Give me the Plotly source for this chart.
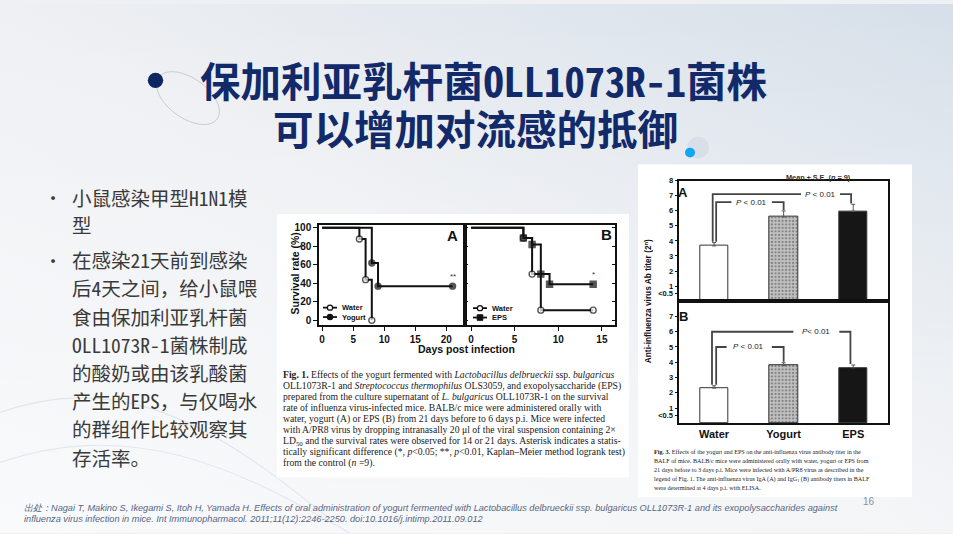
import base64
import math
import plotly.graph_objects as go

W, H = 953, 534


def px(x):
    return x / W


def py(y):
    return 1 - y / H


# ---------------- data ----------------
days_A_water = [0, 6, 7, 8]
surv_A_water = [100, 88, 44, 0]
days_A_yogurt = [0, 8, 9, 21]
surv_A_yogurt = [100, 62, 37, 37]
days_B_water = [0, 6, 7, 8, 14]
surv_B_water = [100, 89, 50, 11, 11]
days_B_eps = [0, 6, 7, 8, 9, 14]
surv_B_eps = [100, 89, 82, 50, 39, 39]

groups = ["Water", "Yogurt", "EPS"]
iga_mean = [3.67, 5.59, 5.97]
iga_se = [0.22, 0.40, 0.46]
igg_mean = [2.31, 3.78, 3.64]
igg_se = [0.15, 0.19, 0.18]

surv_ticks_y = [0, 20, 40, 60, 80, 100]
surv_ticks_xA = [0, 5, 10, 15, 20]
surv_ticks_xB = [0, 5, 10, 15]
titer_ticks_A = [0.5, 1, 2, 3, 4, 5, 6, 7, 8]
titer_ticks_B = [0.5, 1, 2, 3, 4, 5, 6, 7]

title_lines = ["保加利亚乳杆菌OLL1073R-1菌株", "可以增加对流感的抵御"]
bullets = [
    ["小鼠感染甲型H1N1模", "型"],
    ["在感染21天前到感染", "后4天之间，给小鼠喂", "食由保加利亚乳杆菌", "OLL1073R-1菌株制成",
     "的酸奶或由该乳酸菌", "产生的EPS，与仅喝水", "的群组作比较观察其", "存活率。"],
]
fig1_caption = [
    "<b>Fig. 1.</b> Effects of the yogurt fermented with <i>Lactobacillus delbrueckii</i> ssp. <i>bulgaricus</i>",
    "OLL1073R-1 and <i>Streptococcus thermophilus</i> OLS3059, and exopolysaccharide (EPS)",
    "prepared from the culture supernatant of <i>L. bulgaricus</i> OLL1073R-1 on the survival",
    "rate of influenza virus-infected mice. BALB/c mice were administered orally with",
    "water, yogurt (A) or EPS (B) from 21 days before to 6 days p.i. Mice were infected",
    "with A/PR8 virus by dropping intranasally 20 μl of the viral suspension containing 2×",
    "LD<sub>50</sub> and the survival rates were observed for 14 or 21 days. Asterisk indicates a statis-",
    "tically significant difference (*, <i>p</i>&lt;0.05; **, <i>p</i>&lt;0.01, Kaplan–Meier method logrank test)",
    "from the control (<i>n</i> =9).",
]
fig3_caption = [
    "<b>Fig. 3.</b> Effects of the yogurt and EPS on the anti-influenza virus antibody titer in the",
    "BALF of mice. BALB/c mice were administered orally with water, yogurt or EPS from",
    "21 days before to 3 days p.i. Mice were infected with A/PR8 virus as described in the",
    "legend of Fig. 1. The anti-influenza virus IgA (A) and IgG<sub>1</sub> (B) antibody titers in BALF",
    "were determined at 4 days p.i. with ELISA.",
]
footer_lines = [
    "出处：Nagai T, Makino S, Ikegami S, Itoh H, Yamada H. Effects of oral administration of yogurt fermented with Lactobacillus delbrueckii ssp. bulgaricus OLL1073R-1 and its exopolysaccharides against",
    "influenza virus infection in mice. Int Immunopharmacol. 2011;11(12):2246-2250. doi:10.1016/j.intimp.2011.09.012",
]

# ---------------- styles ----------------
SANS = "Liberation Sans, Arial, sans-serif"
SERIF = "Liberation Serif, Times New Roman, serif"
CJK = "Noto Sans Mono CJK SC, Noto Sans CJK SC, sans-serif"
NAVY = "#12296a"
INK = "#111111"

fig = go.Figure()


def surv_trace(xs, ys, name, symbol, fill, xa, ya):
    sizes = [0] + [6] * (len(xs) - 1)
    return go.Scatter(
        x=xs, y=ys, mode="lines+markers", name=name, showlegend=False,
        line=dict(shape="hv", color=INK, width=2),
        marker=dict(symbol=symbol, size=sizes, color=fill, line=dict(color=INK, width=1.4)),
        xaxis=xa, yaxis=ya, cliponaxis=False,
    )


fig.add_trace(surv_trace(days_A_water, surv_A_water, "Water", "circle", "white", "x", "y"))
fig.add_trace(surv_trace(days_A_yogurt, surv_A_yogurt, "Yogurt", "circle", INK, "x", "y"))
fig.add_trace(surv_trace(days_B_water, surv_B_water, "Water", "circle", "white", "x2", "y2"))
fig.add_trace(surv_trace(days_B_eps, surv_B_eps, "EPS", "square", INK, "x2", "y2"))

xidx = list(range(len(groups)))
bar_colors = ["white", "#c2c2c2", "#161616"]
bar_patterns = ["", ".", ""]
for means, ses, xa, ya in [(iga_mean, iga_se, "x3", "y3"), (igg_mean, igg_se, "x4", "y4")]:
    fig.add_trace(go.Bar(
        x=xidx, y=means, width=0.41, showlegend=False,
        marker=dict(color=bar_colors, line=dict(color="#333", width=1),
                    pattern=dict(shape=bar_patterns, fgcolor="#2a2a2a", size=3.5, solidity=0.35,
                                 fillmode="overlay")),
        error_y=dict(type="data", array=ses, arrayminus=[0] * len(ses), symmetric=False,
                     color="#555", thickness=1, width=2),
        xaxis=xa, yaxis=ya,
    ))

shapes = []
annotations = []


# significance brackets (computed from the bar tops)
def bracket(xa, ya, i0, i1, means, ses, y_h, dx0, dx1, gap0, gap1, label_x, label):
    yl = means[i0] + ses[i0] + 0.06
    yr = means[i1] + ses[i1] + 0.06
    xl = i0 + dx0
    xr = i1 + dx1
    st = dict(type="path", xref=xa, yref=ya, line=dict(color="#444", width=1.8), layer="above")
    shapes.append(dict(st, path=f"M {xl},{yl} L {xl},{y_h} L {gap0},{y_h}"))
    shapes.append(dict(st, path=f"M {gap1},{y_h} L {xr},{y_h} L {xr},{yr}"))
    annotations.append(dict(x=label_x, y=y_h, xref=xa, yref=ya, text=label, showarrow=False,
                            font=dict(family=SANS, size=8, color="#222")))


bracket("x3", "y3", 0, 2, iga_mean, iga_se, 7.1, -0.02, -0.03, 1.25, 1.81, 1.53, "<i>P</i> &lt; 0.01")
bracket("x3", "y3", 0, 1, iga_mean, iga_se, 6.58, 0.03, 0.0, 0.25, 0.83, 0.54, "<i>P</i> &lt; 0.01")
bracket("x4", "y4", 0, 2, igg_mean, igg_se, 6.0, -0.03, -0.04, 1.14, 1.80, 1.47, "<i>P</i>&lt; 0.01")
bracket("x4", "y4", 0, 1, igg_mean, igg_se, 5.0, 0.03, 0.0, 0.18, 0.83, 0.50, "<i>P</i> &lt; 0.01")

# ---------------- background decorations ----------------
svg = f'''<svg xmlns="http://www.w3.org/2000/svg" width="{W}" height="{H}" viewBox="0 0 {W} {H}" preserveAspectRatio="none">
<defs>
<linearGradient id="g" x1="0" y1="1" x2="1" y2="0">
<stop offset="0" stop-color="#f6f7f9"/>
<stop offset="0.5" stop-color="#eef0f3"/>
<stop offset="1" stop-color="#d6dfe9"/>
</linearGradient>
<linearGradient id="h" x1="0" y1="0" x2="0" y2="1">
<stop offset="0" stop-color="#ffffff" stop-opacity="0"/>
<stop offset="1" stop-color="#ffffff" stop-opacity="0.35"/>
</linearGradient>
</defs>
<rect width="{W}" height="{H}" fill="url(#g)"/>
<rect width="{W}" height="{H}" fill="url(#h)"/>
<path d="M -20 420 C 120 360 220 430 330 520" fill="none" stroke="#e1e6ed" stroke-width="1.2"/>
<path d="M -20 470 C 130 410 240 470 360 540" fill="none" stroke="#e3e8ee" stroke-width="1.2"/>
</svg>'''
bg_uri = "data:image/svg+xml;base64," + base64.b64encode(svg.encode("utf-8")).decode("ascii")

# white panels holding the two figures
for (x0, y0, x1, y1) in [(277, 212, 629, 478), (638, 162, 912, 498)]:
    shapes.append(dict(type="rect", xref="paper", yref="paper", x0=px(x0), x1=px(x1), y0=py(y1), y1=py(y0),
                       fillcolor="white", line=dict(width=0), layer="below"))

# ellipse + navy dot near the title
cx, cy, ea, eb, th = 188, 95, 36, 20, math.radians(36)
pts = []
for k in range(73):
    t = 2 * math.pi * k / 72
    X = cx + ea * math.cos(t) * math.cos(th) - eb * math.sin(t) * math.sin(th)
    Y = cy + ea * math.cos(t) * math.sin(th) + eb * math.sin(t) * math.cos(th)
    pts.append(f"{px(X):.5f},{py(Y):.5f}")
shapes.append(dict(type="path", xref="paper", yref="paper", path="M " + " L ".join(pts) + " Z",
                   line=dict(color="#c9cbd0", width=1), layer="below"))


def circle(cxp, cyp, r, color, line_color=None, layer="below", lw=1):
    return dict(type="circle", xref="paper", yref="paper", x0=px(cxp - r), x1=px(cxp + r),
                y0=py(cyp + r), y1=py(cyp - r), fillcolor=color,
                line=dict(width=0 if line_color is None else lw, color=line_color or color), layer=layer)


shapes.append(circle(155.5, 77, 7.7, "#0d2560"))
shapes.append(circle(698, 145, 11, "#d9dfe9"))
shapes.append(circle(690, 150, 5, "#10a6f0"))

# ---------------- legend keys for the survival panels ----------------
legend_items = [
    (323, 306.5, "Water", "circle", "white"),
    (323, 316, "Yogurt", "circle", INK),
    (473, 307, "Water", "circle", "white"),
    (473, 316.5, "EPS", "square", INK),
]
for (lx, ly, name, sym, fill) in legend_items:
    shapes.append(dict(type="line", xref="paper", yref="paper", x0=px(lx), x1=px(lx + 14),
                       y0=py(ly), y1=py(ly), line=dict(color=INK, width=1.8), layer="above"))
    mx = lx + 7
    if sym == "circle":
        shapes.append(circle(mx, ly, 2.6, fill, INK, "above", 1.2))
    else:
        shapes.append(dict(type="rect", xref="paper", yref="paper", x0=px(mx - 2.8), x1=px(mx + 2.8),
                           y0=py(ly + 2.8), y1=py(ly - 2.8), fillcolor=fill, line=dict(color=INK, width=1),
                           layer="above"))
    annotations.append(dict(x=px(lx + 17), y=py(ly), xref="paper", yref="paper", text=f"<b>{name}</b>",
                            showarrow=False, xanchor="left", yanchor="middle",
                            font=dict(family=SANS, size=7.5, color=INK)))

# ---------------- text ----------------
for i, t in enumerate(title_lines):
    annotations.append(dict(x=px(483 if i == 0 else 475), y=py(76 if i == 0 else 125), xref="paper", yref="paper",
                            text=f"<b>{t}</b>", showarrow=False, xanchor="center", yanchor="middle",
                            font=dict(family=CJK, size=40.5, color=NAVY)))

line_y = [[195, 223], [258, 286.5, 315, 343.5, 372, 400.5, 429, 458]]
for b, lines in enumerate(bullets):
    annotations.append(dict(x=px(53), y=py(line_y[b][0]), xref="paper", yref="paper", text="•",
                            showarrow=False, xanchor="center", yanchor="middle",
                            font=dict(family=CJK, size=18, color="#3a3a3a")))
    for j, t in enumerate(lines):
        annotations.append(dict(x=px(70), y=py(line_y[b][j]), xref="paper", yref="paper", text=t,
                                showarrow=False, xanchor="left", yanchor="middle",
                                font=dict(family=CJK, size=19.5, color="#3a3a3a")))

for i, t in enumerate(fig1_caption):
    annotations.append(dict(x=px(281), y=py(374 + 11.2 * i), xref="paper", yref="paper", text=t,
                            showarrow=False, xanchor="left", yanchor="middle",
                            font=dict(family=SERIF, size=9.7, color="#222")))

for i, t in enumerate(fig3_caption):
    annotations.append(dict(x=px(652), y=py(452 + 9.2 * i), xref="paper", yref="paper", text=t,
                            showarrow=False, xanchor="left", yanchor="middle",
                            font=dict(family=SERIF, size=6.15, color="#222")))

for i, t in enumerate(footer_lines):
    annotations.append(dict(x=px(22), y=py(509 + 11 * i), xref="paper", yref="paper", text=t,
                            showarrow=False, xanchor="left", yanchor="middle",
                            font=dict(family=SANS, size=9.2, color="#566585", style="italic")))
annotations.append(dict(x=px(877), y=py(510), xref="paper", yref="paper", text="16", showarrow=False,
                        font=dict(family=SANS, size=10, color="#8a8f99")))

# chart labels
annotations += [
    dict(x=px(287), y=py(272), xref="paper", yref="paper", text="<b>Survival rate (%)</b>", textangle=-90,
         showarrow=False, font=dict(family=SANS, size=10.5, color=INK)),
    dict(x=px(466), y=py(348), xref="paper", yref="paper", text="<b>Days post infection</b>",
         showarrow=False, font=dict(family=SANS, size=10.5, color=INK)),
    dict(x=px(452), y=py(234), xref="paper", yref="paper", text="<b>A</b>", showarrow=False,
         font=dict(family=SANS, size=15, color=INK)),
    dict(x=px(606), y=py(233), xref="paper", yref="paper", text="<b>B</b>", showarrow=False,
         font=dict(family=SANS, size=15, color=INK)),
    dict(x=days_A_yogurt[-1], y=47, xref="x", yref="y", text="**", showarrow=False,
         font=dict(family=SANS, size=8, color="#333")),
    dict(x=days_B_eps[-1], y=50, xref="x2", yref="y2", text="*", showarrow=False,
         font=dict(family=SANS, size=8, color="#333")),
    dict(x=px(655), y=py(300), xref="paper", yref="paper", text="<b>Anti-influenza virus Ab titer (2<sup>n</sup>)</b>",
         textangle=-90, showarrow=False, font=dict(family=SANS, size=8.3, color=INK)),
    dict(x=px(853), y=py(169), xref="paper", yref="paper", text="<b>Mean ± S.E. (<i>n</i> = 9)</b>",
         showarrow=False, font=dict(family=SANS, size=7.3, color="#333")),
    dict(x=px(690), y=py(190), xref="paper", yref="paper", text="<b>A</b>", showarrow=False,
         font=dict(family=SANS, size=13, color=INK)),
    dict(x=px(690), y=py(315), xref="paper", yref="paper", text="<b>B</b>", showarrow=False,
         font=dict(family=SANS, size=13, color=INK)),
]

ax_common = dict(showgrid=False, zeroline=False, showline=True, linecolor=INK, linewidth=1.5, mirror=True,
                 ticks="outside", ticklen=4, tickwidth=1.2, tickcolor=INK,
                 tickfont=dict(family=SANS, size=10, color=INK, weight="bold"))

fig.update_layout(
    width=W, height=H, margin=dict(l=0, r=0, t=0, b=0), autosize=False,
    paper_bgcolor="#eef0f3", plot_bgcolor="white", showlegend=False,
    images=[dict(source=bg_uri, xref="paper", yref="paper", x=0, y=1, sizex=1, sizey=1,
                 xanchor="left", yanchor="top", sizing="stretch", layer="below")],
    shapes=shapes, annotations=annotations, bargap=0,
    xaxis=dict(ax_common, domain=[px(319), px(465)], range=[-0.5, 23.0], tickvals=surv_ticks_xA, anchor="y"),
    yaxis=dict(ax_common, domain=[py(324), py(223)], range=[-5, 103.2], tickvals=surv_ticks_y, anchor="x"),
    xaxis2=dict(ax_common, domain=[px(465), px(615)], range=[-0.69, 16.5], tickvals=surv_ticks_xB, anchor="y2"),
    yaxis2=dict(ax_common, domain=[py(324), py(223)], range=[-5, 103.2], tickvals=surv_ticks_y, anchor="x2",
                showticklabels=False, ticks="inside", ticklen=3, mirror="allticks"),
    xaxis3=dict(ax_common, domain=[px(679.3), px(888)], range=[-0.5, 2.5], tickvals=xidx, anchor="y3",
                showticklabels=False, ticks=""),
    yaxis3=dict(ax_common, domain=[py(300), py(178.3)], range=[0, 8], tickvals=titer_ticks_A,
                ticktext=["&lt;0.5"] + [str(v) for v in titer_ticks_A[1:]], anchor="x3", ticklen=3,
                tickfont=dict(family=SANS, size=7.5, color=INK, weight="bold")),
    xaxis4=dict(ax_common, domain=[px(679.3), px(888)], range=[-0.5, 2.5], tickvals=xidx, ticktext=groups,
                anchor="y4", ticks="", tickfont=dict(family=SANS, size=11, color=INK, weight="bold")),
    yaxis4=dict(ax_common, domain=[py(423.3), py(300)], range=[0, 8], tickvals=titer_ticks_B,
                ticktext=["&lt;0.5"] + [str(v) for v in titer_ticks_B[1:]], anchor="x4", ticklen=3,
                tickfont=dict(family=SANS, size=7.5, color=INK, weight="bold")),
)

fig.write_html("out.html", config={"displayModeBar": False},
               post_script="document.body.style.margin='0';document.body.style.overflow='hidden';")
